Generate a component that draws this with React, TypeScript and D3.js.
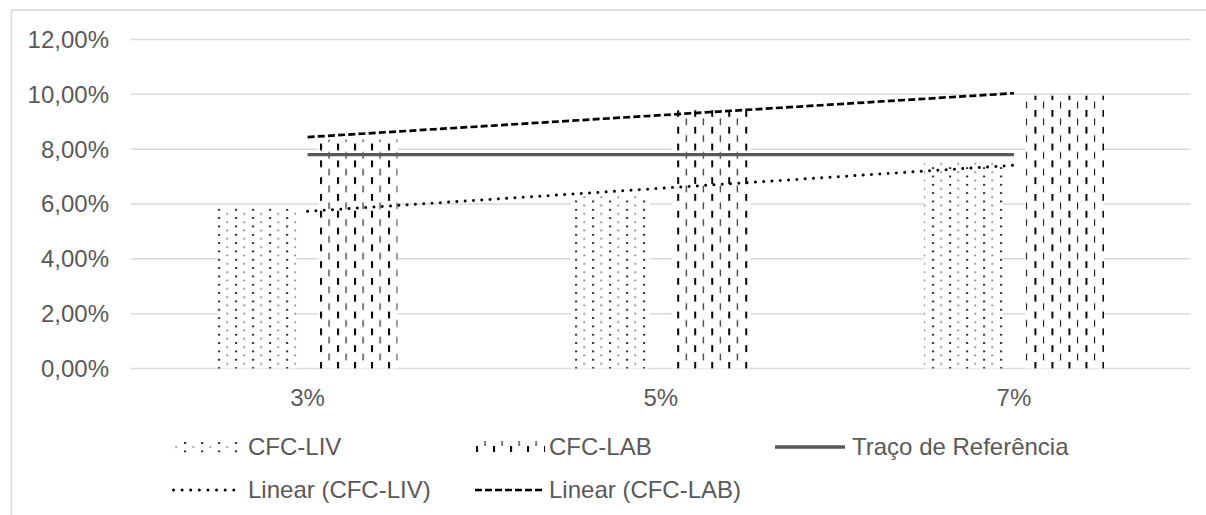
import React from "react";
import * as d3 from "d3";

const categories = ["3%", "5%", "7%"];
const cfcLiv = [5.87, 6.3, 7.55];
const cfcLab = [8.35, 9.42, 9.95];
const referenceValue = 7.8;
const yTicks = [0, 2, 4, 6, 8, 10, 12];
const legendRow1 = ["CFC-LIV", "CFC-LAB", "Traço de Referência"];
const legendRow2 = ["Linear (CFC-LIV)", "Linear (CFC-LAB)"];

const W = 1206;
const H = 515;
const TEXT = "#595959";
const GRID = "#d9d9d9";
const FONT = "'Liberation Sans', Arial, sans-serif";
const FS = 24;

function regression(vals: number[]) {
  const xs = vals.map((_, i) => i + 1);
  const mx = d3.mean(xs)!;
  const my = d3.mean(vals)!;
  const num = d3.sum(xs.map((x, i) => (x - mx) * (vals[i] - my)));
  const den = d3.sum(xs.map((x) => (x - mx) * (x - mx)));
  const b = num / den;
  const a = my - b * mx;
  return (x: number) => a + b * x;
}

export default function App() {
  const x = d3.scaleBand<string>().domain(categories).range([131, 1190.5]).padding(0);
  const sub = d3
    .scaleBand<string>()
    .domain(["liv", "lab"])
    .range([0, x.bandwidth()])
    .paddingInner(0.2178)
    .paddingOuter(0.8564);
  const y = d3.scaleLinear().domain([0, 12]).range([368.5, 39.5]);
  const fmt = (v: number) => d3.format(".2f")(v).replace(".", ",") + "%";
  const cx = (c: string) => x(c)! + x.bandwidth() / 2;

  const livFit = regression(cfcLiv);
  const labFit = regression(cfcLab);
  const line = d3
    .line<[number, number]>()
    .x((d) => d[0])
    .y((d) => d[1]);
  const firstC = categories[0];
  const lastC = categories[categories.length - 1];
  const n = categories.length;
  const livPts: [number, number][] = [
    [cx(firstC), y(livFit(1))],
    [cx(lastC), y(livFit(n))],
  ];
  const labPts: [number, number][] = [
    [cx(firstC), y(labFit(1))],
    [cx(lastC), y(labFit(n))],
  ];
  const refPts: [number, number][] = [
    [cx(firstC), y(referenceValue)],
    [cx(lastC), y(referenceValue)],
  ];

  const series = [
    { key: "liv", vals: cfcLiv, pat: "url(#patLiv)" },
    { key: "lab", vals: cfcLab, pat: "url(#patLab)" },
  ];

  const col1 = 172;
  const col2 = 475;
  const col3 = 775;
  const swW = 70;
  const row1 = 447;
  const row2 = 490;

  return (
    <svg
      width={W}
      height={H}
      style={{ position: "absolute", left: 0, top: 0, background: "#fff" }}
      fontFamily={FONT}
    >
      <defs>
        <pattern
          id="patLiv"
          patternUnits="userSpaceOnUse"
          width={17}
          height={8.33}
          patternTransform="translate(218.2,300.5)"
        >
          <rect x={0} y={0} width={1.8} height={1.8} fill="#000" />
          <rect x={8.5} y={4.17} width={1.1} height={1.6} fill="#222" />
        </pattern>
        <pattern
          id="patLab"
          patternUnits="userSpaceOnUse"
          width={17.01}
          height={16.8}
          patternTransform="translate(320,110)"
        >
          <rect x={0} y={0} width={2} height={6.8} fill="#000" />
          <rect x={8.5} y={8.4} width={1.1} height={6.8} fill="#111" />
        </pattern>
        <pattern
          id="patLabLegend"
          patternUnits="userSpaceOnUse"
          width={17.01}
          height={12}
          patternTransform="translate(476,441)"
        >
          <rect x={0} y={5} width={2} height={6} fill="#000" />
          <rect x={8.5} y={0} width={1.1} height={5} fill="#111" />
        </pattern>
      </defs>

      {/* chart frame */}
      <rect x={11.5} y={10} width={1400} height={700} fill="none" stroke={GRID} strokeWidth={1.5} />

      {/* gridlines and y labels */}
      {yTicks.map((t) => (
        <g key={t}>
          <line x1={131} x2={1190.5} y1={y(t)} y2={y(t)} stroke={GRID} strokeWidth={1.5} />
          <text
            x={109}
            y={y(t)}
            dy="0.35em"
            textAnchor="end"
            fontSize={FS}
            fill={TEXT}
          >
            {fmt(t)}
          </text>
        </g>
      ))}

      {/* bars */}
      {series.map((s) =>
        categories.map((c, i) => {
          const bx = x(c)! + sub(s.key)!;
          const by = y(s.vals[i]);
          const bh = y(0) - by;
          return (
            <g key={s.key + c}>
              <rect x={bx} y={by} width={sub.bandwidth()} height={bh} fill="#fff" />
              <rect x={bx} y={by} width={sub.bandwidth()} height={bh} fill={s.pat} />
            </g>
          );
        })
      )}

      {/* reference line */}
      <path d={line(refPts)!} stroke="#595959" strokeWidth={3.3} fill="none" />
      {/* trend lines */}
      <path
        d={line(livPts)!}
        stroke="#000"
        strokeWidth={3}
        strokeLinecap="round"
        strokeDasharray="0.01 8.3"
        fill="none"
      />
      <path
        d={line(labPts)!}
        stroke="#000"
        strokeWidth={2.7}
        strokeDasharray="7 3.2"
        fill="none"
      />

      {/* x labels */}
      {categories.map((c) => (
        <text key={c} x={cx(c)} y={398} dy="0.35em" textAnchor="middle" fontSize={FS} fill={TEXT}>
          {c}
        </text>
      ))}

      {/* legend */}
      <rect x={col1} y={row1 - 6} width={swW - 4} height={13} fill="url(#patLiv)" />
      <text x={col1 + swW + 6} y={row1} dy="0.35em" fontSize={FS} fill={TEXT}>
        {legendRow1[0]}
      </text>
      <rect x={col2} y={row1 - 6} width={swW} height={12} fill="url(#patLabLegend)" />
      <text x={col2 + swW + 4} y={row1} dy="0.35em" fontSize={FS} fill={TEXT}>
        {legendRow1[1]}
      </text>
      <line x1={col3} x2={col3 + swW} y1={row1} y2={row1} stroke="#595959" strokeWidth={3.3} />
      <text x={col3 + swW + 7} y={row1} dy="0.35em" fontSize={FS} fill={TEXT}>
        {legendRow1[2]}
      </text>

      <line
        x1={col1 + 1.5}
        x2={col1 + swW}
        y1={row2}
        y2={row2}
        stroke="#000"
        strokeWidth={3}
        strokeLinecap="round"
        strokeDasharray="0.01 8.6"
      />
      <text x={col1 + swW + 6} y={row2} dy="0.35em" fontSize={FS} fill={TEXT}>
        {legendRow2[0]}
      </text>
      <line
        x1={col2}
        x2={col2 + swW}
        y1={row2}
        y2={row2}
        stroke="#000"
        strokeWidth={2.5}
        strokeDasharray="7 3"
      />
      <text x={col2 + swW + 4} y={row2} dy="0.35em" fontSize={FS} fill={TEXT}>
        {legendRow2[1]}
      </text>
    </svg>
  );
}
